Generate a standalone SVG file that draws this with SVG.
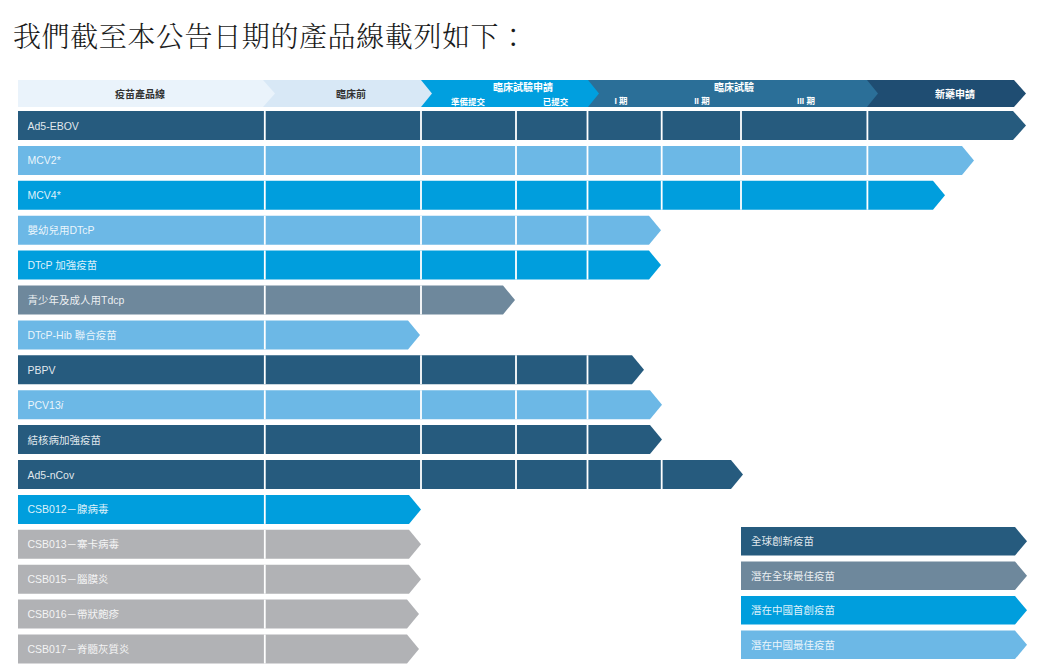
<svg xmlns="http://www.w3.org/2000/svg" width="1048" height="671" viewBox="0 0 1048 671">
<style>
.navy{fill:#265B7E}
.light{fill:#6CB8E6}
.bright{fill:#009EDD}
.slate{fill:#6E889C}
.gray{fill:#B1B2B5}
.lbl{font-family:'Liberation Sans','Noto Sans CJK TC',sans-serif;font-size:10.5px;fill:#FFFFFF;fill-opacity:0.88}
.hd{font-family:'Liberation Sans','Noto Sans CJK TC',sans-serif;font-size:10px;font-weight:bold;text-anchor:middle}
.hs{font-family:'Liberation Sans','Noto Sans CJK TC',sans-serif;font-size:8.5px;font-weight:bold;text-anchor:middle;fill:#FFFFFF}
.dv{stroke:#FFFFFF;stroke-width:1.8}
</style>
<rect width="1048" height="671" fill="#FFFFFF"/>
<text x="13" y="47" font-family="'Noto Serif CJK TC','Noto Sans CJK TC',serif" font-size="28" font-weight="300" letter-spacing="0.6" fill="#1A1A1A">我們截至本公告日期的產品線載列如下：</text>

<g id="header">
  <polygon points="866,80 1014,80 1026,93.5 1014,107 866,107" fill="#1F4D72"/>
  <polygon points="587,80 867,80 878,93.5 867,107 587,107" fill="#2B6F98"/>
  <polygon points="420,80 588,80 599,93.5 588,107 420,107" fill="#009FDF"/>
  <polygon points="262,80 421,80 432,93.5 421,107 262,107" fill="#D8E8F6"/>
  <polygon points="18,80 263,80 275,93.5 263,107 18,107" fill="#EAF3FB"/>
  <text class="hd" x="140" y="97.5" fill="#333333">疫苗產品線</text>
  <text class="hd" x="351" y="97.5" fill="#333333">臨床前</text>
  <text class="hd" x="523" y="91" fill="#FFFFFF">臨床試驗申請</text>
  <text class="hs" x="468" y="104.5">準備提交</text>
  <text class="hs" x="555.5" y="104.5">已提交</text>
  <text class="hd" x="734" y="91" fill="#FFFFFF">臨床試驗</text>
  <text class="hs" x="621" y="104">I 期</text>
  <text class="hs" x="702" y="104">II 期</text>
  <text class="hs" x="806" y="104">III 期</text>
  <text class="hd" x="955" y="97.5" fill="#FFFFFF">新藥申請</text>
</g>

<g id="row-ad5-ebov" transform="translate(0,111)">
  <polygon class="navy" points="18,0 1013,0 1026,14.5 1013,29 18,29"/>
  <path class="dv" d="M264.8,0V29M421,0V29M516,0V29M587.5,0V29M661.7,0V29M741,0V29M867.4,0V29"/>
  <text class="lbl" x="27.5" y="18.5">Ad5-EBOV</text>
</g>
<g id="row-mcv2" transform="translate(0,145.9)">
  <polygon class="light" points="18,0 962,0 974,14.5 962,29 18,29"/>
  <path class="dv" d="M264.8,0V29M421,0V29M516,0V29M587.5,0V29M661.7,0V29M741,0V29M867.4,0V29"/>
  <text class="lbl" x="27.5" y="18.5">MCV2*</text>
</g>
<g id="row-mcv4" transform="translate(0,180.8)">
  <polygon class="bright" points="18,0 933,0 945,14.5 933,29 18,29"/>
  <path class="dv" d="M264.8,0V29M421,0V29M516,0V29M587.5,0V29M661.7,0V29M741,0V29M867.4,0V29"/>
  <text class="lbl" x="27.5" y="18.5">MCV4*</text>
</g>
<g id="row-dtcp-infant" transform="translate(0,215.7)">
  <polygon class="light" points="18,0 649,0 661,14.5 649,29 18,29"/>
  <path class="dv" d="M264.8,0V29M421,0V29M516,0V29M587.5,0V29"/>
  <text class="lbl" x="27.5" y="18.5">嬰幼兒用DTcP</text>
</g>
<g id="row-dtcp-booster" transform="translate(0,250.6)">
  <polygon class="bright" points="18,0 649,0 661,14.5 649,29 18,29"/>
  <path class="dv" d="M264.8,0V29M421,0V29M516,0V29M587.5,0V29"/>
  <text class="lbl" x="27.5" y="18.5">DTcP 加強疫苗</text>
</g>
<g id="row-tdcp" transform="translate(0,285.5)">
  <polygon class="slate" points="18,0 503,0 515,14.5 503,29 18,29"/>
  <path class="dv" d="M264.8,0V29M421,0V29"/>
  <text class="lbl" x="27.5" y="18.5">青少年及成人用Tdcp</text>
</g>
<g id="row-dtcp-hib" transform="translate(0,320.4)">
  <polygon class="light" points="18,0 408,0 420,14.5 408,29 18,29"/>
  <path class="dv" d="M264.8,0V29"/>
  <text class="lbl" x="27.5" y="18.5">DTcP-Hib 聯合疫苗</text>
</g>
<g id="row-pbpv" transform="translate(0,355.3)">
  <polygon class="navy" points="18,0 632,0 644,14.5 632,29 18,29"/>
  <path class="dv" d="M264.8,0V29M421,0V29M516,0V29M587.5,0V29"/>
  <text class="lbl" x="27.5" y="18.5">PBPV</text>
</g>
<g id="row-pcv13i" transform="translate(0,390.2)">
  <polygon class="light" points="18,0 650,0 662,14.5 650,29 18,29"/>
  <path class="dv" d="M264.8,0V29M421,0V29M516,0V29M587.5,0V29"/>
  <text class="lbl" x="27.5" y="18.5">PCV13<tspan font-style="italic">i</tspan></text>
</g>
<g id="row-tb" transform="translate(0,425.1)">
  <polygon class="navy" points="18,0 650,0 662,14.5 650,29 18,29"/>
  <path class="dv" d="M264.8,0V29M421,0V29M516,0V29M587.5,0V29"/>
  <text class="lbl" x="27.5" y="18.5">結核病加強疫苗</text>
</g>
<g id="row-ad5-ncov" transform="translate(0,460)">
  <polygon class="navy" points="18,0 731,0 743,14.5 731,29 18,29"/>
  <path class="dv" d="M264.8,0V29M421,0V29M516,0V29M587.5,0V29M661.7,0V29"/>
  <text class="lbl" x="27.5" y="18.5">Ad5-nCov</text>
</g>
<g id="row-csb012" transform="translate(0,494.9)">
  <polygon class="bright" points="18,0 409,0 421,14.5 409,29 18,29"/>
  <path class="dv" d="M264.8,0V29"/>
  <text class="lbl" x="27.5" y="18.5">CSB012－腺病毒</text>
</g>
<g id="row-csb013" transform="translate(0,529.8)">
  <polygon class="gray" points="18,0 409,0 421,14.5 409,29 18,29"/>
  <path class="dv" d="M264.8,0V29"/>
  <text class="lbl" x="27.5" y="18.5">CSB013－寨卡病毒</text>
</g>
<g id="row-csb015" transform="translate(0,564.7)">
  <polygon class="gray" points="18,0 409,0 421,14.5 409,29 18,29"/>
  <path class="dv" d="M264.8,0V29"/>
  <text class="lbl" x="27.5" y="18.5">CSB015－腦膜炎</text>
</g>
<g id="row-csb016" transform="translate(0,599.6)">
  <polygon class="gray" points="18,0 407,0 419,14.5 407,29 18,29"/>
  <path class="dv" d="M264.8,0V29"/>
  <text class="lbl" x="27.5" y="18.5">CSB016－帶狀皰疹</text>
</g>
<g id="row-csb017" transform="translate(0,634.5)">
  <polygon class="gray" points="18,0 407,0 419,14.5 407,29 18,29"/>
  <path class="dv" d="M264.8,0V29"/>
  <text class="lbl" x="27.5" y="18.5">CSB017－脊髓灰質炎</text>
</g>

<g id="legend-global-innovative" transform="translate(0,527)">
  <polygon class="navy" points="741,0 1015,0 1027,14.25 1015,28.5 741,28.5"/>
  <text class="lbl" x="751" y="18.3">全球創新疫苗</text>
</g>
<g id="legend-global-best" transform="translate(0,561.5)">
  <polygon class="slate" points="741,0 1015,0 1027,14.25 1015,28.5 741,28.5"/>
  <text class="lbl" x="751" y="18.3">潛在全球最佳疫苗</text>
</g>
<g id="legend-china-first" transform="translate(0,596)">
  <polygon class="bright" points="741,0 1015,0 1027,14.25 1015,28.5 741,28.5"/>
  <text class="lbl" x="751" y="18.3">潛在中國首創疫苗</text>
</g>
<g id="legend-china-best" transform="translate(0,630.6)">
  <polygon class="light" points="741,0 1015,0 1027,14.25 1015,28.5 741,28.5"/>
  <text class="lbl" x="751" y="18.3">潛在中國最佳疫苗</text>
</g>
<g id="connectors"/>
</svg>
